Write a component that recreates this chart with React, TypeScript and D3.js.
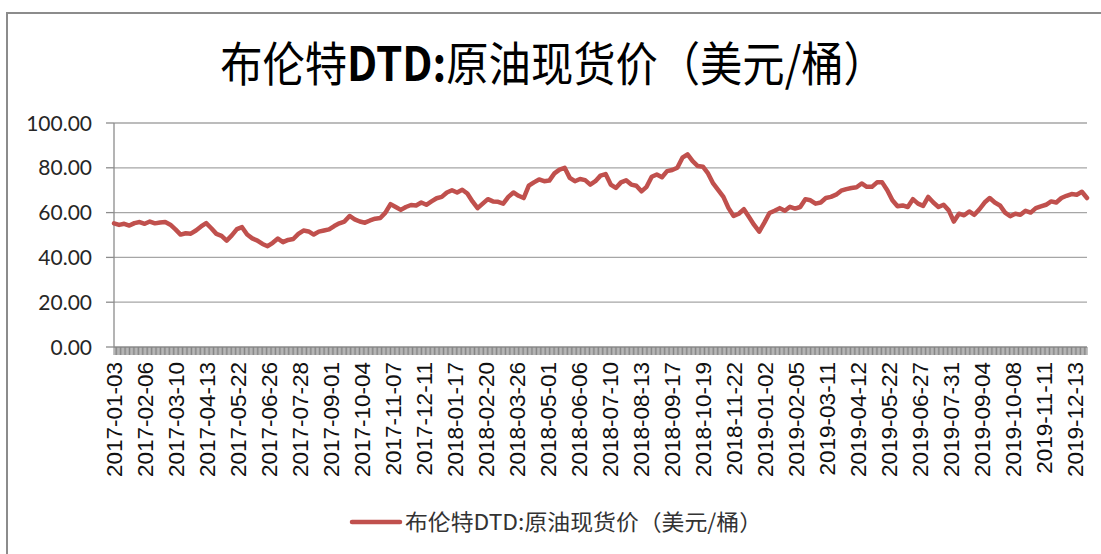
import React from 'react';
import * as d3 from 'd3';

// x axis: trading days, labelled every 24th day
const categoryCount = 754;
const labelEvery = 24;
const labelDates = [
  '2017-01-03', '2017-02-06', '2017-03-10', '2017-04-13', '2017-05-22', '2017-06-26',
  '2017-07-28', '2017-09-01', '2017-10-04', '2017-11-07', '2017-12-11', '2018-01-17',
  '2018-02-20', '2018-03-26', '2018-05-01', '2018-06-06', '2018-07-10', '2018-08-13',
  '2018-09-17', '2018-10-19', '2018-11-22', '2019-01-02', '2019-02-05', '2019-03-11',
  '2019-04-12', '2019-05-22', '2019-06-27', '2019-07-31', '2019-09-04', '2019-10-08',
  '2019-11-11', '2019-12-13',
];

// Brent DTD spot price (about every 4th trading day)
const prices = [
  55.2, 54.5, 55.0, 54.2, 55.3, 55.8, 55.0, 56.0, 55.2, 55.6,
  55.8, 54.6, 52.5, 50.2, 50.8, 50.6, 52.0, 53.8, 55.3, 53.0,
  50.5, 49.6, 47.5, 49.8, 52.6, 53.5, 50.2, 48.5, 47.5, 46.0,
  45.0, 46.5, 48.4, 46.8, 47.8, 48.2, 50.5, 52.0, 51.6, 50.2,
  51.5, 52.0, 52.5, 54.0, 55.2, 56.0, 58.5, 57.0, 56.0, 55.5,
  56.5, 57.3, 57.6, 60.0, 63.8, 62.5, 61.2, 62.5, 63.4, 63.2,
  64.5, 63.5, 65.0, 66.4, 67.0, 69.0, 70.0, 69.0, 70.2, 68.5,
  65.0, 62.0, 64.0, 66.0, 65.0, 64.8, 64.0, 67.0, 69.0, 67.5,
  66.5, 72.0, 73.5, 74.8, 74.0, 74.3, 77.5, 79.2, 80.0, 75.5,
  74.0, 75.0, 74.5, 72.5, 74.0, 76.5, 77.2, 72.5, 71.0, 73.5,
  74.4, 72.5, 72.0, 69.5, 71.5, 76.0, 77.0, 75.8, 78.5, 79.0,
  80.0, 84.5, 86.0, 83.0, 80.8, 80.5, 77.5, 73.0, 70.0, 67.0,
  62.0, 58.5, 59.5, 61.5, 58.0, 54.5, 51.5, 55.5, 59.8, 60.8,
  62.0, 60.8, 62.6, 61.8, 62.5, 66.0, 65.5, 64.0, 64.5, 66.5,
  67.0, 68.0, 69.8, 70.5, 71.0, 71.3, 73.0, 71.5, 71.5, 73.5,
  73.5, 70.0, 65.5, 62.8, 63.2, 62.5, 66.0, 64.0, 63.0, 67.0,
  64.5, 62.5, 63.5, 61.0, 56.0, 59.5, 58.8, 60.5, 59.0, 61.5,
  64.5, 66.5, 64.5, 63.2, 60.0, 58.4, 59.5, 59.0, 60.8, 60.0,
  62.0, 62.8, 63.5, 65.0, 64.5, 66.5, 67.5, 68.3, 68.0, 69.3,
  66.5,
];

const yTicks = [0, 20, 40, 60, 80, 100];

const title = '布伦特DTD:原油现货价（美元/桶）';
const seriesName = '布伦特DTD:原油现货价（美元/桶）';

const width = 1101;
const height = 554;
const plot = { left: 114, right: 1087, top: 123, bottom: 347 };
const lineColor = '#c0504d';
const gridColor = '#a6a6a6';

const App: React.FC = () => {
  const yScale = d3.scaleLinear().domain([0, 100]).range([plot.bottom, plot.top]);
  const xCat = d3.scaleLinear().domain([0, categoryCount - 1]).range([plot.left, plot.right]);
  const xPrice = d3.scaleLinear().domain([0, prices.length - 1]).range([plot.left, plot.right]);

  const line = d3
    .line<number>()
    .x((_, i) => xPrice(i))
    .y((d) => yScale(d));

  const tickIdx = d3.range(categoryCount);

  return (
    <svg
      width={width}
      height={height}
      style={{ position: 'absolute', left: 0, top: 0, background: '#fff' }}
    >
      <rect x={0} y={0} width={width} height={height} fill="#fff" />
      {/* chart frame */}
      <rect x={7} y={13} width={1100} height={560} fill="none" stroke="#8c8c8c" strokeWidth={2} />

      {/* title, squeezed horizontally like the original */}
      <text
        transform="translate(553,81) scale(0.9,1)"
        textAnchor="middle"
        fontFamily="'Noto Sans CJK SC', sans-serif"
        fontSize={47}
        fill="#000"
      >
        <tspan>{title.slice(0, 3)}</tspan>
        <tspan fontWeight="bold">{title.slice(3, 7)}</tspan>
        <tspan>{title.slice(7)}</tspan>
      </text>

      {/* gridlines + y axis */}
      {yTicks.map((t) => (
        <g key={t}>
          {t > 0 && (
            <line
              x1={plot.left}
              x2={plot.right}
              y1={yScale(t)}
              y2={yScale(t)}
              stroke={gridColor}
              strokeWidth={1.3}
            />
          )}
          <line x1={plot.left - 8} x2={plot.left} y1={yScale(t)} y2={yScale(t)} stroke="#8c8c8c" strokeWidth={1.3} />
          <text
            x={92}
            y={yScale(t)}
            dy="0.36em"
            textAnchor="end"
            fontFamily="Lato, 'Open Sans', sans-serif"
            fontSize={21}
            fill="#262626"
          >
            {d3.format('.2f')(t)}
          </text>
        </g>
      ))}
      <line x1={plot.left} x2={plot.left} y1={plot.top} y2={plot.bottom} stroke="#8c8c8c" strokeWidth={1.3} />

      {/* x axis with a tick for every trading day */}
      <line x1={plot.left} x2={plot.right} y1={plot.bottom} y2={plot.bottom} stroke="#8c8c8c" strokeWidth={1.3} />
      <g stroke="#858585" strokeWidth={1}>
        {tickIdx.map((i) => (
          <line key={i} x1={xCat(i)} x2={xCat(i)} y1={plot.bottom} y2={plot.bottom + 8} />
        ))}
      </g>
      {labelDates.map((d, k) => {
        const x = xCat(k * labelEvery);
        return (
          <text
            key={d}
            transform={`translate(${x},${362}) rotate(-90)`}
            dy="0.36em"
            textAnchor="end"
            fontFamily="'Liberation Sans', Arial, sans-serif"
            fontSize={22.5}
            fill="#111"
          >
            {d}
          </text>
        );
      })}

      {/* series */}
      <path
        d={line(prices) ?? ''}
        fill="none"
        stroke={lineColor}
        strokeWidth={4.5}
        strokeLinejoin="round"
        strokeLinecap="round"
      />

      {/* legend */}
      <line x1={352} x2={400} y1={522} y2={522} stroke={lineColor} strokeWidth={4.5} strokeLinecap="round" />
      <text
        x={405}
        y={522}
        dy="0.36em"
        fontFamily="'Noto Sans CJK SC', sans-serif"
        fontSize={22}
        fill="#333"
        textLength={357}
        lengthAdjust="spacingAndGlyphs"
      >
        {seriesName}
      </text>
    </svg>
  );
};

export default App;
